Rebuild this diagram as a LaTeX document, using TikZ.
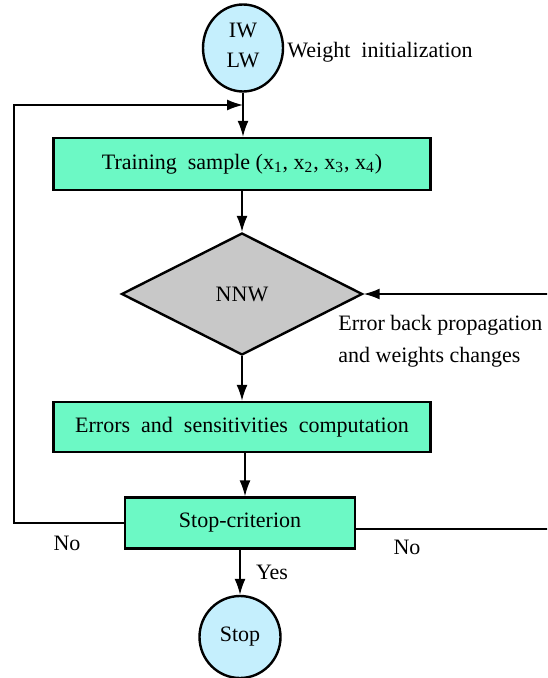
\documentclass[tikz,border=0pt]{standalone}
\usepackage{fontspec}
\setmainfont{Liberation Serif}
\usepackage{tikz}
\usetikzlibrary{calc,arrows.meta,shapes.geometric}
\definecolor{mint}{HTML}{6CF9C5}
\definecolor{sky}{HTML}{C5EFFD}
\definecolor{greyfill}{HTML}{C8C8C8}
\tikzset{
  proc/.style={draw=black, fill=mint, line width=1.2pt, inner sep=0pt, font=\fontsize{11}{12}\selectfont},
  term/.style={ellipse, draw=black, fill=sky, line width=1.2pt, inner sep=0pt, font=\fontsize{11}{12}\selectfont},
  dec/.style={diamond, draw=black, fill=greyfill, line width=1.2pt, inner sep=0pt, font=\fontsize{11}{12}\selectfont},
  flow/.style={draw=black, line width=0.8pt, -{Latex[length=8pt,width=5.5pt]}},
  lab/.style={inner sep=0pt, font=\fontsize{11}{12}\selectfont},
}

\begin{document}
\begin{tikzpicture}[x=0.5pt, y=-0.5pt]
  \useasboundingbox (0,0) rectangle (547,678);
  \clip (0,0) rectangle (547,678);
  % blocks
  \node[term, minimum width=40pt, minimum height=43.5pt] (init) at (243,48)
    {\raisebox{-3.5pt}{\begin{tabular}{@{}c@{}}IW\\[3pt]LW\end{tabular}}};
  \node[proc, minimum width=188.5pt, minimum height=26pt] (train) at (242,164)
    {Training\ \ sample (x\textsubscript{1}, x\textsubscript{2}, x\textsubscript{3}, x\textsubscript{4})};
  \node[dec, minimum width=120.5pt, minimum height=61pt] (nnw) at (242,294) {NNW};
  \node[proc, minimum width=188.5pt, minimum height=25pt] (err) at (242,427)
    {Errors\ \ and\ \ sensitivities\ \ computation};
  \node[proc, minimum width=115pt, minimum height=25.5pt] (crit) at (240,523) {Stop-criterion};
  \node[term, minimum width=40.5pt, minimum height=41pt] (stop) at (240,637) {Stop};
  % labels
  \node[lab, anchor=west] (winit) at (287,52) {Weight\ \ initialization};
  \node[lab, anchor=west] (ebp) at (338,325) {Error back propagation};
  \node[lab, anchor=west] (wch) at (338,357) {and weights changes};
  \node[lab] (nol) at (67,543) {No};
  \node[lab] (nor) at (407,547) {No};
  \node[lab] (yes) at (272,572) {Yes};
  % connectors
  \coordinate (j) at (243,105);
  \coordinate (lft) at (14,105);
  \coordinate (rgt) at (553,294);
  \draw[flow] (init) -- (train.north -| init);
  \draw[flow] (train) -- (nnw);
  \draw[flow] (nnw) -- (err);
  \draw[flow] (err.south -| 245,0) -- (crit.north -| 245,0);
  \draw[flow] (crit.south -| stop) -- (stop);
  \draw[flow] (crit.west) -| (lft) -- (j);
  \draw[flow] ([yshift=-3pt]crit.east) -| (rgt) -- (nnw.east);
\end{tikzpicture}
\end{document}
